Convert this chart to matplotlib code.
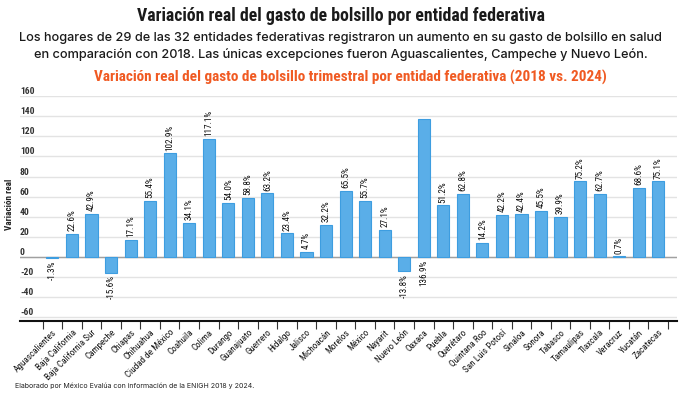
import numpy as np
import matplotlib
matplotlib.use('Agg')
import matplotlib.pyplot as plt
from matplotlib import font_manager

# ---------------- data ----------------
states = ["Aguascalientes", "Baja California", "Baja California Sur", "Campeche",
          "Chiapas", "Chihuahua", "Ciudad de México", "Coahuila", "Colima",
          "Durango", "Guanajuato", "Guerrero", "Hidalgo", "Jalisco", "Michoacán",
          "Morelos", "México", "Nayarit", "Nuevo León", "Oaxaca", "Puebla",
          "Querétaro", "Quintana Roo", "San Luis Potosí", "Sinaloa", "Sonora",
          "Tabasco", "Tamaulipas", "Tlaxcala", "Veracruz", "Yucatán", "Zacatecas"]
variation = [-1.3, 22.6, 42.9, -15.6, 17.1, 55.4, 102.9, 34.1, 117.1, 54.0,
             58.8, 63.2, 23.4, 4.7, 32.2, 65.5, 55.7, 27.1, -13.8, 136.9,
             51.2, 62.8, 14.2, 42.2, 42.4, 45.5, 39.9, 75.2, 62.7, 0.7,
             68.6, 75.1]
yticks = [-60, -40, -20, 0, 20, 40, 60, 80, 100, 120, 140, 160]

title = "Variación real del gasto de bolsillo por entidad federativa"
sub1 = "Los hogares de 29 de las 32 entidades federativas registraron un aumento en su gasto de bolsillo en salud"
sub2 = "en comparación con 2018. Las únicas excepciones fueron Aguascalientes, Campeche y Nuevo León."
chart_title = "Variación real del gasto de bolsillo trimestral por entidad federativa (2018 vs. 2024)"
ylabel = "Variación real"
footer = "Elaborado por México Evalúa con información de la ENIGH 2018 y 2024."

# ---------------- fonts ----------------
available = {f.name for f in font_manager.fontManager.ttflist}
def pick(*names):
    for n in names:
        if n in available:
            return n
    return 'DejaVu Sans'
COND = pick('Roboto Condensed', 'Liberation Sans Narrow', 'Roboto', 'Liberation Sans')
SANS = pick('Inter', 'Open Sans', 'Roboto', 'Lato')
plt.rcParams['font.family'] = [COND, 'DejaVu Sans']
plt.rcParams['axes.unicode_minus'] = False

W, H = 681, 397
fig = plt.figure(figsize=(W / 100, H / 100), dpi=100)
fig.patch.set_facecolor('white')

def px(x, y):
    return x / W, 1 - y / H

renderer = fig.canvas.get_renderer()

def fit_text(xc, yb, s, target_w, ha='center', **kw):
    t = fig.text(*px(xc, yb), s, ha=ha, va='baseline', **kw)
    w = t.get_window_extent(renderer).width
    t.set_fontsize(t.get_fontsize() * target_w / w)
    return t

fit_text(341, 21, title, 408, fontsize=12, fontweight='bold', color='#1a1a1a', family=[COND, 'DejaVu Sans'])
fit_text(340.5, 41, sub1, 645, fontsize=9, fontweight='medium', color='#1a1a1a', family=[SANS, 'DejaVu Sans'])
fit_text(340.5, 58, sub2, 615, fontsize=9, fontweight='medium', color='#1a1a1a', family=[SANS, 'DejaVu Sans'])
fit_text(350, 82, chart_title, 516, fontsize=10, fontweight='bold', color='#f05a22', family=[COND, 'DejaVu Sans'])
fit_text(15, 388, footer, 240, ha='left', fontsize=5.5, color='#222222', family=[SANS, 'DejaVu Sans'])

# ---------------- axes ----------------
ax = fig.add_axes([20 / W, 76 / H, 657 / W, 225 / H])
x = np.arange(len(states))
ax.set_xlim(-1.66, len(states) - 0.04)
ax.set_ylim(-63.6, 160)

ax.set_yticks(yticks)
ax.set_yticklabels([str(v) for v in yticks])
ax.yaxis.grid(True, color='#e3e3e3', lw=1, zorder=0)
ax.set_axisbelow(True)
ax.tick_params(axis='y', length=0, pad=0, labelsize=6.8, labelcolor='#333333')
for lab in ax.get_yticklabels():
    lab.set_ha('left')
    lab.set_va('bottom')
    lab.set_fontweight('bold')

ax.axhline(0, color='#a0a0a0', lw=1, zorder=1)

ax.bar(x, variation, width=0.62, color='#5aaee8', edgecolor='#3d9de0', lw=0.8, zorder=2)

for s in ['top', 'right', 'left']:
    ax.spines[s].set_visible(False)
ax.spines['bottom'].set_color('#111111')
ax.spines['bottom'].set_linewidth(1.5)

ax.set_xticks(x)
ax.set_xticklabels(states, rotation=45, ha='right', va='top', rotation_mode='anchor',
                   fontsize=6.6, color='#111111')
ax.tick_params(axis='x', which='major', length=0, pad=5)
ax.set_xticks(np.arange(-0.5, len(states), 1), minor=True)
ax.tick_params(axis='x', which='minor', length=5.5, width=0.8, color='#333333')

# value labels
ytop = ax.get_ylim()[1]
for xi, v in zip(x, variation):
    s = f"{v:.1f}%"
    if v >= 0:
        t = ax.annotate(s, (xi, v), xytext=(0, 2), textcoords='offset points',
                        rotation=90, ha='center', va='bottom', fontsize=6.6, color='#111111')
        bb = t.get_window_extent(renderer)
        top_data = ax.transData.inverted().transform((0, bb.y1))[1]
        if top_data > ytop:
            t.xyann = (0, -2)
            t.xy = (xi, 0)
            t.set_va('top')
    else:
        ax.annotate(s, (xi, v), xytext=(0, -2), textcoords='offset points',
                    rotation=90, ha='center', va='top', fontsize=6.6, color='#111111')

fig.text(*px(10, 204), ylabel, rotation=90, ha='center', va='center',
         fontsize=6.6, fontweight='bold', color='#222222')

fig.savefig('out.png', dpi=100, facecolor='white')
